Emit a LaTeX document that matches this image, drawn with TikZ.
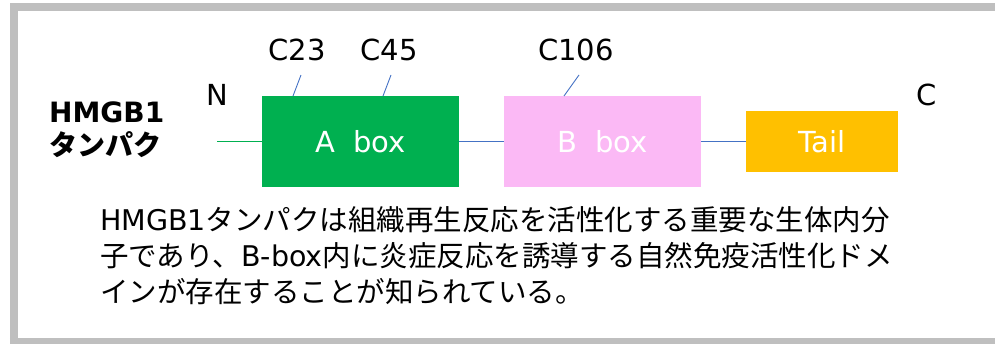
\documentclass[tikz,border=0pt]{standalone}
\usepackage{fontspec}
\setmainfont{Noto Sans CJK JP}
\newfontfamily\latinfont{DejaVu Sans}
\usetikzlibrary{positioning}

\definecolor{frameGray}{HTML}{BFBFBF}
\definecolor{boxGreen}{HTML}{00B050}
\definecolor{boxPink}{HTML}{FBB9F5}
\definecolor{tailGold}{HTML}{FFC000}
\definecolor{linkBlue}{HTML}{4472C4}

\tikzset{
	domainbox/.style={inner sep=0pt, outer sep=0pt, text=white, font=\latinfont\fontsize{29}{32}\selectfont},
	sitelabel/.style={font=\latinfont\fontsize{29}{32}\selectfont},
	linkline/.style={linkBlue, line width=0.9pt},
	siteline/.style={linkBlue, line width=0.9pt}
}

\begin{document}
\begin{tikzpicture}[x=1pt, y=-1pt]
		\useasboundingbox (0,0) rectangle (995,343);
		\clip (0,0) rectangle (995,343);

		%Ramme
		\draw [frameGray, line width=8pt] (13.8,350) -- (13.8,7.3) -- (1000,7.3);
		\draw [frameGray, line width=8pt] (9.8,342) -- (1000,342);

		%Domener
		\node [domainbox, fill=boxGreen, minimum width=197pt, minimum height=91pt] (abox) at (360.5,141.5) {A\ \ box};
		\node [domainbox, fill=boxPink, minimum width=197pt, minimum height=91pt] (bbox) at (602.5,141.5) {B\ \ box};
		\node [domainbox, fill=tailGold, minimum width=152pt, minimum height=61pt] (tail) at (822,141.5) {Tail};

		%Kjede
		\coordinate (nstart) at (217,141.5);
		\draw [boxGreen, line width=0.9pt] (nstart) -- (abox.west);
		\draw [linkline] (abox.east) -- (bbox.west);
		\draw [linkline] (bbox.east) -- (tail.west);

		%Ender
		\node [sitelabel] (nterm) at (217,95) {N};
		\node [sitelabel] (cterm) at (927,95) {C};

		%Cystein
		\node [sitelabel] (c23) at (297,50) {C23};
		\node [sitelabel] (c45) at (389,50) {C45};
		\node [sitelabel] (c106) at (576,50) {C106};
		\coordinate (t23) at (301,75);
		\coordinate (t45) at (391,75);
		\coordinate (t106) at (579,75);
		\draw [siteline] (t23) -- ([xshift=31pt]abox.north west);
		\draw [siteline] (t45) -- ([xshift=121pt]abox.north west);
		\draw [siteline] (t106) -- ([xshift=60pt]bbox.north west);

		%Tittel
		\node [anchor=west, align=left, inner sep=0pt, font=\bfseries\fontsize{28}{33}\selectfont] (title) at (49,130) {{\latinfont\bfseries HMGB1}\\タンパク};

		%Tekst
		\node [anchor=north west, align=left, inner sep=0pt, font=\fontsize{28.5}{36}\selectfont] (body) at (100,206) {{\latinfont HMGB1}タンパクは組織再生反応を活性化する重要な生体内分\\子であり、{\latinfont B-box}内に炎症反応を誘導する自然免疫活性化ドメ\\インが存在することが知られている。};
	\end{tikzpicture}
\end{document}
